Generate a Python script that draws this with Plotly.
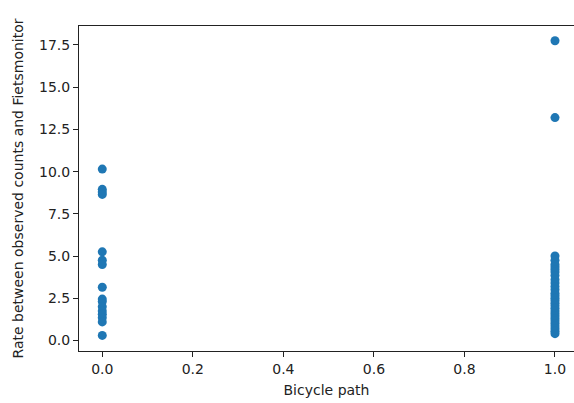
import plotly.graph_objects as go

# Data
path_0_rates = [10.15, 8.95, 8.8, 8.65, 5.25, 4.75, 4.5, 3.15, 2.45, 2.3,
                2.0, 1.75, 1.55, 1.35, 1.1, 0.3]
path_1_rates = [17.75, 13.2, 5.0, 4.75, 4.5, 4.35, 4.2, 4.05, 3.85, 3.6,
                3.4, 3.2, 3.0, 2.8, 2.65, 2.5, 2.35, 2.2, 2.05, 1.9,
                1.75, 1.6, 1.45, 1.3, 1.15, 1.0, 0.85, 0.7, 0.55, 0.4]

x_vals = [0.0] * len(path_0_rates) + [1.0] * len(path_1_rates)
y_vals = path_0_rates + path_1_rates

x_ticks = [0.0, 0.2, 0.4, 0.6, 0.8, 1.0]
y_ticks = [0.0, 2.5, 5.0, 7.5, 10.0, 12.5, 15.0, 17.5]

font = dict(family="DejaVu Sans", size=14, color="#222222")

fig = go.Figure(go.Scatter(
    x=x_vals, y=y_vals, mode="markers",
    marker=dict(color="#1f77b4", size=9, line=dict(width=0)),
    showlegend=False,
))

fig.update_layout(
    width=574, height=403,
    margin=dict(l=79, r=0, t=26, b=52),
    paper_bgcolor="white", plot_bgcolor="white",
    font=font,
)
fig.update_xaxes(
    range=[-0.0514, 1.042],
    tickvals=x_ticks, ticktext=[f"{v:.1f}" for v in x_ticks],
    ticks="outside", ticklen=5, tickwidth=1, tickcolor="#222222",
    showline=True, linecolor="#222222", linewidth=1, mirror=True,
    showgrid=False, zeroline=False,
    title=dict(text="Bicycle path", font=font, standoff=9),
)
fig.update_yaxes(
    range=[-0.625, 18.625],
    tickvals=y_ticks, ticktext=[f"{v:.1f}" for v in y_ticks],
    ticks="outside", ticklen=5, tickwidth=1, tickcolor="#222222",
    showline=True, linecolor="#222222", linewidth=1, mirror=False,
    showgrid=False, zeroline=False,
    title=dict(text="Rate between observed counts and Fietsmonitor", font=font, standoff=12),
)

fig.write_html("out.html")
